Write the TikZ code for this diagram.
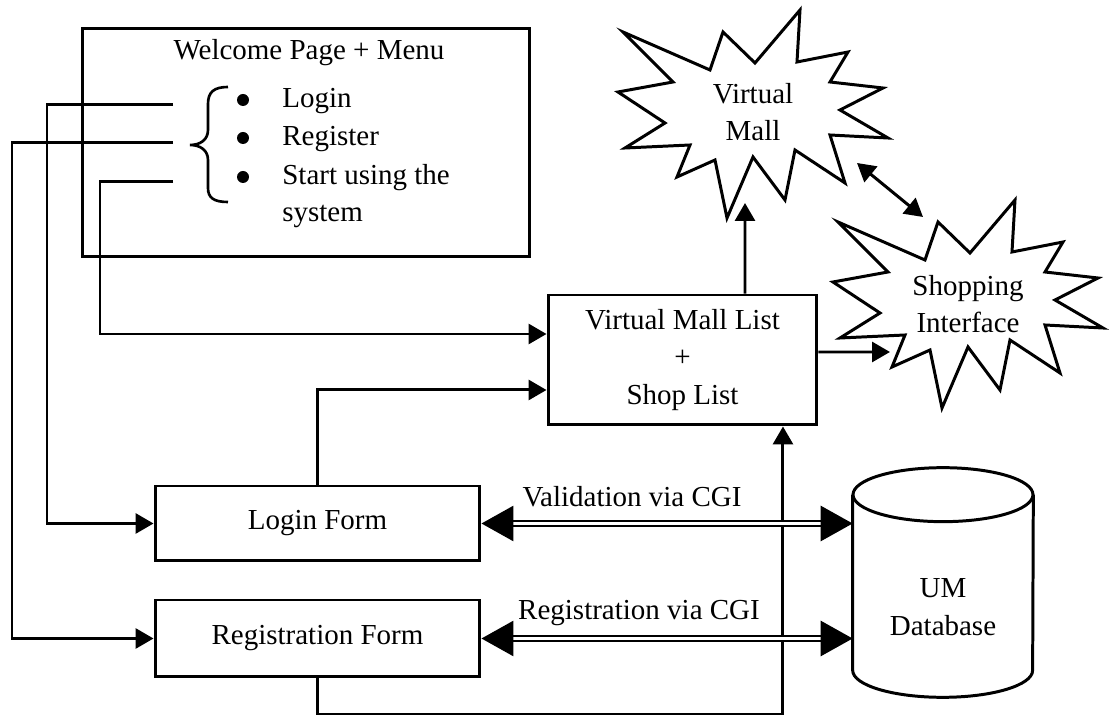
\documentclass[tikz,border=0pt]{standalone}
\usepackage{fontspec}
\setmainfont{Liberation Serif}
\usetikzlibrary{arrows.meta}
\tikzset{
  ln/.style={line width=1.7pt},
  box/.style={draw, line width=1.7pt, inner sep=0pt, align=center},
  txt/.style={inner sep=0pt, align=center},
  bul/.style={circle, fill, inner sep=0pt, minimum size=0.24cm},
  arr/.style={ln, -{Triangle[length=0.36cm,width=0.4cm]}},
  darr/.style={ln, {Triangle[length=0.36cm,width=0.4cm]}-{Triangle[length=0.36cm,width=0.4cm]}},
  dbl/.style={double, line width=1.6pt, double distance=1.2pt,
    {Triangle[length=0.64cm,width=0.7cm]}-{Triangle[length=0.64cm,width=0.7cm]}},
  burst/.style={line width=1.7pt, line join=miter}
}
\newcommand{\burstpath}{(623,32) -- (710,70) -- (723,32) -- (755,63) -- (800,10) -- (797,62) -- (848,52) -- (830,82) -- (883,88) -- (840,110) -- (888,138) -- (830,135) -- (845,183) -- (795,150) -- (785,200) -- (753,157) -- (727,218) -- (715,160) -- (677,177) -- (690,145) -- (625,148) -- (665,123) -- (618,92) -- (673,82) -- cycle}
\begin{document}
\begin{tikzpicture}[x=0.02cm, y=-0.02cm, font=\fontsize{16.5}{21.3}\selectfont]
\useasboundingbox (0,0) rectangle (1113,715);

% Welcome box
\node[box, minimum width=8.96cm, minimum height=4.58cm] (welcome) at (306,142.5) {};
\node[txt, anchor=base] (title) at (309,60) {Welcome Page + Menu};
\node[bul] (b1) at (243,100) {};
\node[bul] (b2) at (243,138) {};
\node[bul] (b3) at (243,177) {};
\node[txt, anchor=base west] (t1) at (282,108) {Login};
\node[txt, anchor=base west] (t2) at (282,146) {Register};
\node[txt, anchor=base west] (t3) at (282,185) {Start using the};
\node[txt, anchor=base west] (t4) at (282,222) {system};
\draw[line width=1.5pt] (228,87) .. controls (214,87) and (208,92) .. (208,104) -- (208,130)
  .. controls (208,140) and (200,145) .. (190,145)
  .. controls (200,145) and (208,150) .. (208,160) -- (208,188)
  .. controls (208,198) and (214,202) .. (228,202);
\coordinate (m1) at (173,105);
\coordinate (m2) at (173,143);
\coordinate (m3) at (173,182);

% Forms and list
\node[box, minimum width=6.5cm, minimum height=1.5cm] (login) at (317.5,523.5) {Login Form};
\node[box, minimum width=6.5cm, minimum height=1.54cm] (reg) at (317.5,638.5) {Registration Form};
\node[box, minimum width=5.38cm, minimum height=2.6cm] (vml) at (682.5,360) {Virtual Mall List\\+\\Shop List};

% Database cylinder
\node[inner sep=0pt, minimum width=3.6cm, minimum height=3.5cm] (db) at (943,582.5) {};
\draw[ln] (db.north west) -- (db.south west) arc[start angle=180, end angle=360, x radius=1.8cm, y radius=0.54cm] -- (db.north east);
\draw[ln] (db.north) ellipse [x radius=1.8cm, y radius=0.54cm];
\node[txt] (dblabel) at (943,607) {UM\\Database};

% Starbursts
\draw[burst] \burstpath;
\draw[burst, shift={(215,190)}] \burstpath;
\node[txt] (vm) at (753,112) {Virtual\\Mall};
\node[txt] (si) at (968,304) {Shopping\\Interface};
\coordinate (vmbot) at (745,203);
\coordinate (vmse) at (857,163);
\coordinate (sinw) at (923,217);
\coordinate (siw) at (890,352);

% Connectors
\draw[arr] (m1) -- ++(-126,0) |- (login.west);
\draw[arr] (m2) -- ++(-161,0) |- (reg.west);
\draw[arr] (m3) -- ++(-73,0) |- ([yshift=0.52cm]vml.west);
\draw[arr] (login.north) |- ([yshift=-0.6cm]vml.west);
\draw[arr] (reg.south) -- ++(0,36) -| ([xshift=2.01cm]vml.south);
\draw[arr] ([xshift=1.25cm]vml.north) -- (vmbot);
\draw[arr] ([yshift=0.16cm]vml.east) -- (siw);
\draw[darr] (vmse) -- (sinw);
\draw[dbl] (login.east) -- (login.east -| db.west);
\draw[dbl] (reg.east) -- (reg.east -| db.west);
\node[txt] (lval) at (632,497) {Validation via CGI};
\node[txt] (lreg) at (639,613) {Registration via CGI};
\end{tikzpicture}
\end{document}
